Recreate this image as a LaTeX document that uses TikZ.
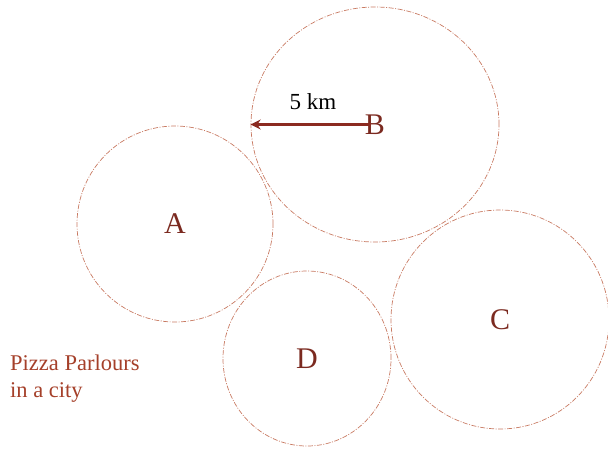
\documentclass[tikz,border=0pt]{standalone}
\usepackage{fontspec}
\setmainfont{Liberation Serif}
\usetikzlibrary{arrows.meta,shapes.geometric}
\definecolor{ringcol}{HTML}{C87A62}
\definecolor{lettercol}{HTML}{7B2A20}
\definecolor{arrowcol}{HTML}{8B2A20}
\definecolor{notecol}{HTML}{A5402A}
\tikzset{
  zone/.style={ellipse, draw=ringcol, line width=0.7pt,
    dash pattern=on 5pt off 1.5pt on 1pt off 1.5pt,
    inner sep=0pt, text=lettercol, font=\fontsize{30}{32}\selectfont},
  radiusarrow/.style={draw=arrowcol, line width=3.4pt, -{Stealth[length=10pt,width=10pt]}},
}
\begin{document}
\begin{tikzpicture}[x=1pt,y=-1pt]
\useasboundingbox (0,0) rectangle (608,448);
\clip (0,0) rectangle (608,448);
\node[zone, minimum width=196pt, minimum height=196pt] (A) at (175,224) {A};
\node[zone, minimum width=248pt, minimum height=235pt] (B) at (375,124.5) {B};
\node[zone, minimum width=218pt, minimum height=219pt] (C) at (500,319.5) {C};
\node[zone, minimum width=168pt, minimum height=175pt] (D) at (307,358.5) {D};
\draw[radiusarrow] ([xshift=-4pt]B.center) -- (B.west);
\node[font=\fontsize{23}{25}\selectfont, anchor=base] (km) at (313,109) {5 km};
\node[font=\fontsize{22.5}{27}\selectfont, text=notecol, anchor=base west, align=left, inner sep=0pt] (note) at (10,397) {Pizza Parlours\\in a city};
\end{tikzpicture}
\end{document}
